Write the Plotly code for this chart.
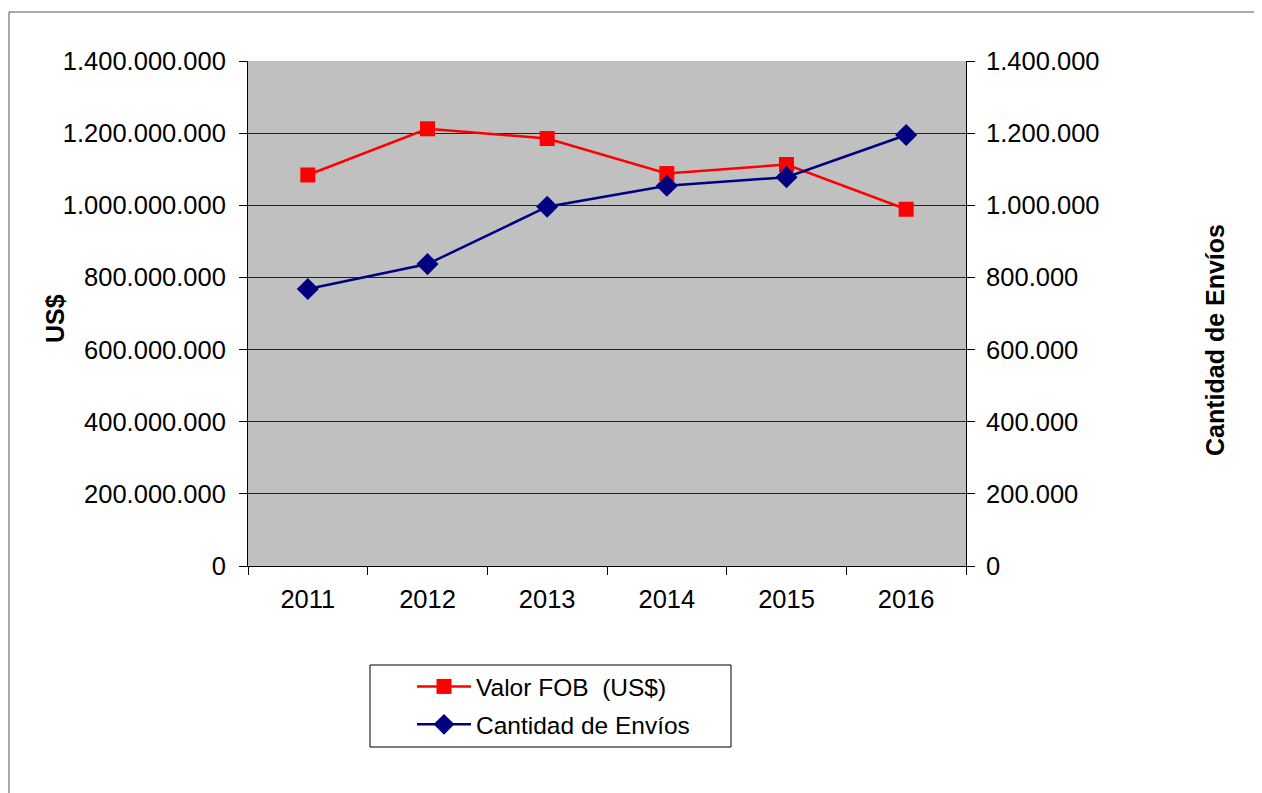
import plotly.graph_objects as go

years = ["2011", "2012", "2013", "2014", "2015", "2016"]
valor_fob = [1084000000, 1212000000, 1185000000, 1088000000, 1113000000, 989000000]
envios = [768000, 837000, 996000, 1054000, 1078000, 1195000]

W, H = 1262, 793
OFF = 8  # page body margin offset
# target plot area on screen
sx0, sx1, sy0, sy1 = 248, 966, 61, 566
ml = sx0 - OFF
mr = W - (sx1 - OFF)
mt = sy0 - OFF
mb = H - (sy1 - OFF)
PW = sx1 - sx0
PH = sy1 - sy0


def px(x):
    return (x - OFF - ml) / PW


def py(y):
    return (H - mb - (y - OFF)) / PH


FAM = "Liberation Sans, Arial"
font = dict(family=FAM, size=25.5, color="black")

fig = go.Figure()
fig.add_trace(go.Scatter(
    x=years, y=valor_fob, name="Valor FOB  (US$)", mode="lines+markers",
    line=dict(color="#FF0000", width=2.5),
    marker=dict(symbol="square", size=15, color="#FF0000"),
    legendgroup="a", yaxis="y"))
fig.add_trace(go.Scatter(
    x=years, y=envios, name="Cantidad de Envíos", mode="lines+markers",
    line=dict(color="#000080", width=2.5),
    marker=dict(symbol="diamond", size=17, color="#000080"),
    legendgroup="b", yaxis="y2"))

fig.update_layout(
    width=W, height=H,
    margin=dict(l=ml, r=mr, t=mt, b=mb, autoexpand=False),
    paper_bgcolor="white",
    plot_bgcolor="#C0C0C0",
    separators=",.",
    font=font,
    showlegend=True,
    legend=dict(
        x=px(412), y=py(664), xanchor="left", yanchor="top",
        borderwidth=0, bgcolor="rgba(0,0,0,0)",
        font=dict(family=FAM, size=24.5, color="black"),
        itemwidth=54, tracegroupgap=3,
    ),
    xaxis=dict(
        type="category", range=[-0.5, 5.5],
        tickson="boundaries", ticks="outside", ticklen=8, tickcolor="black",
        showline=True, linecolor="black", linewidth=1,
        showgrid=False, zeroline=False, automargin=False,
        tickfont=font, anchor="y", ticklabelstandoff=10,
    ),
    yaxis=dict(
        range=[0, 1400000000],
        tick0=0, dtick=200000000, tickformat=",d",
        ticks="outside", ticklen=8, tickcolor="black",
        showline=True, linecolor="black", linewidth=1,
        showgrid=True, gridcolor="#222222", gridwidth=1, zeroline=False,
        tickfont=font, automargin=False, ticklabelstandoff=8,
    ),
    yaxis2=dict(
        overlaying="y", side="right", anchor="x", range=[0, 1400000],
        tick0=0, dtick=200000, tickformat=",d",
        ticks="outside", ticklen=8, tickcolor="black",
        showline=True, linecolor="black", linewidth=1,
        showgrid=False, zeroline=False,
        tickfont=font, automargin=False, ticklabelstandoff=6,
    ),
    annotations=[
        dict(text="<b>US$</b>", xref="paper", yref="paper",
             x=px(55), y=py(319), xanchor="center", yanchor="middle",
             textangle=-90, showarrow=False,
             font=dict(family=FAM, size=25, color="black")),
        dict(text="<b>Cantidad de Envíos</b>", xref="paper", yref="paper",
             x=px(1215), y=py(340), xanchor="center", yanchor="middle",
             textangle=-90, showarrow=False,
             font=dict(family=FAM, size=25, color="black")),
    ],
    shapes=[
        dict(type="rect", xref="paper", yref="paper",
             x0=px(9), x1=px(1300), y0=py(830), y1=py(12),
             line=dict(color="#555555", width=1), fillcolor="rgba(0,0,0,0)",
             layer="below"),
        dict(type="rect", xref="paper", yref="paper",
             x0=px(370), x1=px(731), y0=py(747), y1=py(665),
             line=dict(color="black", width=1), fillcolor="white",
             layer="below"),
    ],
)

fig.write_html("out.html")
